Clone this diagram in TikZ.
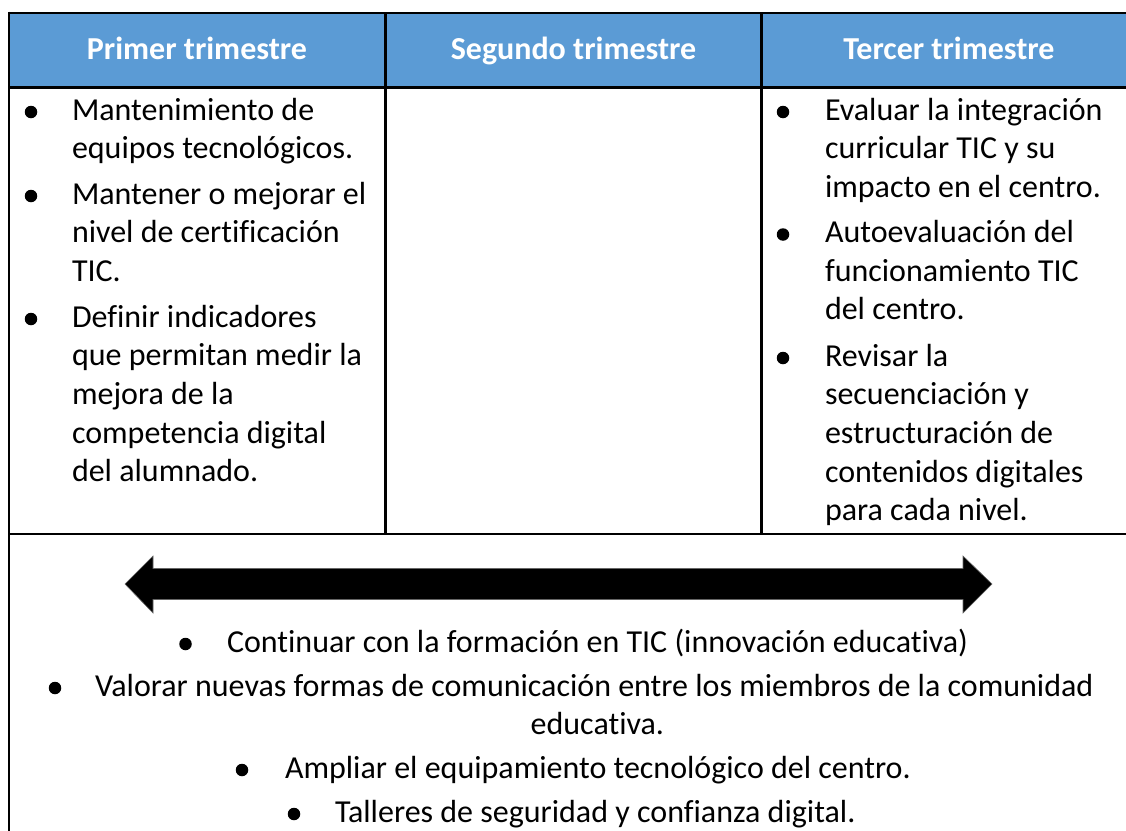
\documentclass[tikz,border=0pt]{standalone}
\usepackage{fontspec}
\setmainfont{Carlito}[Ligatures=NoCommon]
\definecolor{hdrblue}{HTML}{5B9BD5}
\tikzset{
  txt/.style={inner sep=0pt, outer sep=0pt, anchor=base west, font=\fontsize{32}{38.7}\selectfont, text=black},
  hdr/.style={inner sep=0pt, outer sep=0pt, anchor=base, font=\fontsize{32}{38.7}\selectfont\bfseries, text=white},
  rule/.style={line width=2.6pt, draw=black},
  bul/.style={circle, fill=black, inner sep=0pt, minimum size=12.5pt},
  bigarrow/.style={fill=black, draw=black!60, line width=0.6pt}
}
\begin{document}
\begin{tikzpicture}[x=1pt,y=-1pt]
\useasboundingbox (0,0) rectangle (1126,830);
% header fill
\fill[hdrblue] (9,13) rectangle (1140,87.5);
% table rules
\draw[rule] (9,13) -- (1140,13);
\draw[rule] (9,11.7) -- (9,835);
\draw[rule] (9,87.5) -- (1140,87.5);
\draw[rule] (385.3,13) -- (385.3,534);
\draw[rule] (761.7,13) -- (761.7,534);
\draw[rule] (9,534) -- (1140,534);
% header texts
\node[hdr] (h1) at (197,59) {Primer trimestre};
\node[hdr] (h2) at (573.5,59) {Segundo trimestre};
\node[hdr] (h3) at (949,59) {Tercer trimestre};
% column 1
\node[bul] (b11) at (31,112) {};
\node[txt] (c1a) at (72,120) {Mantenimiento de};
\node[txt] (c1b) at (72,158.5) {equipos tecnológicos.};
\node[bul] (b12) at (31,196) {};
\node[txt] (c1c) at (72,204) {Mantener o mejorar el};
\node[txt] (c1d) at (72,242.7) {nivel de certificación};
\node[txt] (c1e) at (72,281.4) {TIC.};
\node[bul] (b13) at (31,319) {};
\node[txt] (c1f) at (72,327) {Definir indicadores};
\node[txt] (c1g) at (72,365.7) {que permitan medir la};
\node[txt] (c1h) at (72,404.4) {mejora de la};
\node[txt] (c1i) at (72,443.1) {competencia digital};
\node[txt] (c1j) at (72,481.8) {del alumnado.};
% column 3
\node[bul] (b31) at (783,112) {};
\node[txt] (c3a) at (825,120) {Evaluar la integración};
\node[txt] (c3b) at (825,158.5) {curricular TIC y su};
\node[txt] (c3c) at (825,197.2) {impacto en el centro.};
\node[bul] (b32) at (783,234.5) {};
\node[txt] (c3d) at (825,242.5) {Autoevaluación del};
\node[txt] (c3e) at (825,281.2) {funcionamiento TIC};
\node[txt] (c3f) at (825,319.9) {del centro.};
\node[bul] (b33) at (783,358) {};
\node[txt] (c3g) at (825,366) {Revisar la};
\node[txt] (c3h) at (825,404.7) {secuenciación y};
\node[txt] (c3i) at (825,443.4) {estructuración de};
\node[txt] (c3j) at (825,482.1) {contenidos digitales};
\node[txt] (c3k) at (825,520.8) {para cada nivel.};
% double arrow
\path[bigarrow] (125,584) -- (153,556) -- (153,568.5) -- (963,568.5) -- (963,556)
  -- (992,584) -- (963,613) -- (963,599.5) -- (153,599.5) -- (153,613) -- cycle;
% bottom row
\node[bul] (b41) at (185.5,644) {};
\node[txt] (r1) at (227,652) {Continuar con la formación en TIC (innovación educativa)};
\node[bul] (b42) at (55,688) {};
\node[txt] (r2) at (95,696) {Valorar nuevas formas de comunicación entre los miembros de la comunidad};
\node[txt, anchor=base east] (r2b) at (664,734.5) {educativa.};
\node[bul] (b43) at (242,770) {};
\node[txt] (r3) at (285,778) {Ampliar el equipamiento tecnológico del centro.};
\node[bul] (b44) at (294,814) {};
\node[txt] (r4) at (335,822) {Talleres de seguridad y confianza digital.};
\end{tikzpicture}
\end{document}
